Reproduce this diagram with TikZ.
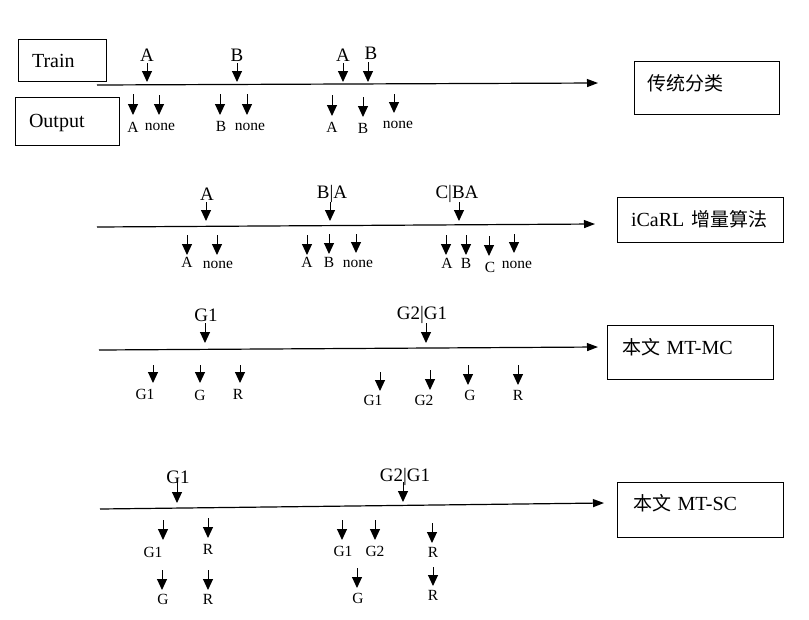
\documentclass[tikz,border=0pt]{standalone}
\usepackage{fontspec}
\setmainfont{Liberation Serif}
\newfontfamily\cjkfont[Scale=0.95]{Noto Sans CJK SC}
\usetikzlibrary{arrows.meta}

\begin{document}
\begin{tikzpicture}
[x=1pt,y=-1pt,
  boxdecorate/.style={draw,line width=1pt,align=left,inner ysep=0pt,text height=15pt,
    font=\fontsize{20}{24}\selectfont},%
  toplabeldecorate/.style={inner sep=0pt,font=\fontsize{19}{22}\selectfont},%
  outlabeldecorate/.style={inner sep=0pt,font=\fontsize{15.5}{18}\selectfont},%
  arrowdecorate/.style={-{Triangle[width=10pt,length=11pt]},line width=1pt},%
  timelinedecorate/.style={-{Triangle[width=8pt,length=11pt]},line width=1.2pt}]
\useasboundingbox (0,0) rectangle (809,619);
%% boxes
\node (train) at (62,60) [boxdecorate,minimum width=88pt,minimum height=42pt,
  text width=60pt,inner xsep=14pt,text depth=0pt] {Train};
\node (output) at (67,121) [boxdecorate,minimum width=104pt,minimum height=48pt,
  text width=76pt,inner xsep=14pt,text depth=3pt] {Output};
\node (classic) at (706.5,87.5) [boxdecorate,minimum width=145pt,minimum height=53pt,
  text width=119pt,inner xsep=13pt,text depth=10pt] {\mbox{\cjkfont 传统分类}};
\node (icarl) at (700,219.5) [boxdecorate,minimum width=166pt,minimum height=45pt,
  text width=138pt,inner xsep=14pt,text depth=2pt] {\mbox{iCaRL {\cjkfont 增量算法}}};
\node (mtmc) at (690,352) [boxdecorate,minimum width=166pt,minimum height=54pt,
  text width=136pt,inner xsep=15pt,text depth=11pt] {\mbox{{\cjkfont 本文} MT-MC}};
\node (mtsc) at (700,509.5) [boxdecorate,minimum width=166pt,minimum height=55pt,
  text width=134pt,inner xsep=16pt,text depth=14pt] {\mbox{{\cjkfont 本文} MT-SC}};
%% time lines
\foreach \linename/\xa/\ya/\xb/\yb in {
  l1/97/85/598/83, l2/97/227/595/224, l3/99/350/598/347, l4/100/509/604/503} {
  \coordinate (\linename s) at (\xa,\ya);
  \coordinate (\linename e) at (\xb,\yb);
  \draw[timelinedecorate] (\linename s) -- (\linename e);
}
%% training labels
\foreach \nodename/\x/\y/\labeltext in {
  ta1/147/55/A, ta2/237/55/B, ta3/343/55/A, ta4/371/53/B,
  tb1/207/194/A, tb2/332/194/B|A, tb3/457/194/C|BA,
  tc1/206/315/G1, tc2/422/315/G2|G1,
  td1/178/477/G1, td2/405/477/G2|G1} {
  \node (\nodename) at (\x,\y) [toplabeldecorate] {\labeltext};
}
%% output labels
\foreach \nodename/\x/\y/\labeltext in {
  oa1/133/127/A, oa2/160/127/none, oa3/221/126/B, oa4/250/127/none,
  oa5/332/127/A, oa6/363/128/B, oa7/398/125/none,
  ob1/187/262/A, ob2/218/265/none, ob3/307/262/A, ob4/329/262/B,
  ob5/358/264/none, ob6/447/263/A, ob7/466/263/B, ob8/490/267/C, ob9/517/265/none,
  oc1/145/394/G1, oc2/200/395/G, oc3/238/394/R, oc4/373/400/G1,
  oc5/424/400/G2, oc6/470/395/G, oc7/518/395/R,
  od1/153/552/G1, od2/208/549/R, od3/163/599/G, od4/208/599/R,
  od5/343/551/G1, od6/375/551/G2, od7/433/552/R, od8/358/598/G, od9/433/595/R} {
  \node (\nodename) at (\x,\y) [outlabeldecorate] {\labeltext};
}
%% arrows
\foreach \arrowname/\x/\ystart/\yend in {
  aa1/147/63/82, aa2/237/63/82, aa3/343/63/82, aa4/368/62/82,
  ab1/206/202/221, ab2/330/202/221, ab3/459/202/221,
  ac1/205/323/343, ac2/426/323/343,
  ad1/177/482/503, ad2/403/482/502,
  pa1/133/94/115, pa2/159/95/115, pa3/220/94/115, pa4/247/94/115,
  pa5/332/95/116, pa6/363/97/117, pa7/394/94/113,
  pb1/187/235/255, pb2/217/235/255, pb3/307/235/255, pb4/329/234/254,
  pb5/356/234/253, pb6/446/235/255, pb7/466/235/255, pb8/489/236/256, pb9/514/234/253,
  pc1/153/365/383, pc2/200/365/383, pc3/240/365/383, pc4/380/372/391,
  pc5/430/370/390, pc6/468/365/385, pc7/518/365/385,
  pd1/163/520/540, pd2/208/518/538, pd3/162/570/590, pd4/208/570/590,
  pd5/342/520/540, pd6/375/520/540, pd7/432/523/543, pd8/357/568/588, pd9/433/567/586} {
  \coordinate (\arrowname s) at (\x,\ystart);
  \coordinate (\arrowname e) at (\x,\yend);
  \draw[arrowdecorate] (\arrowname s) -- (\arrowname e);
}
\end{tikzpicture}
\end{document}
